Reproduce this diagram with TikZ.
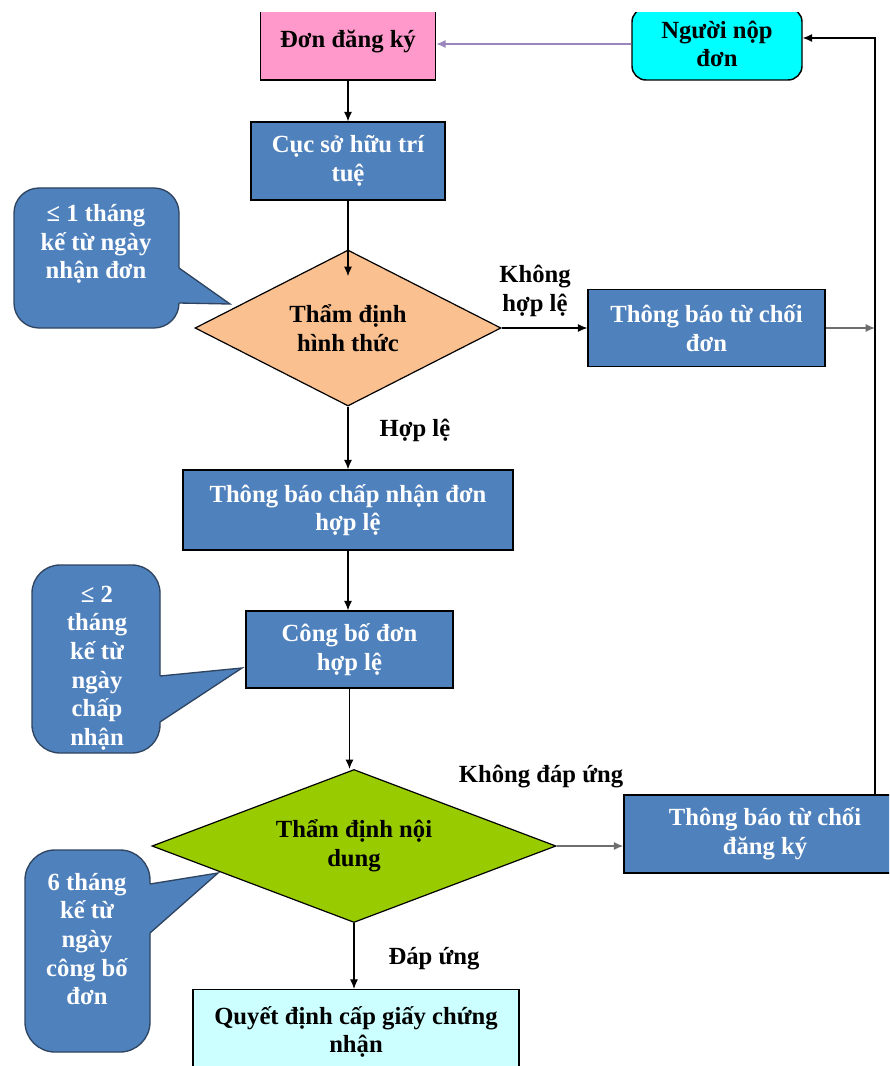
\documentclass[tikz,border=0pt]{standalone}
\usepackage{fontspec}
\setmainfont{Liberation Serif}
\usetikzlibrary{shapes.geometric,arrows.meta}
\definecolor{boxblue}{HTML}{4F81BD}
\definecolor{calloutline}{HTML}{2E4460}
\definecolor{pinkfill}{HTML}{FF99CC}
\definecolor{cyanfill}{HTML}{00FFFF}
\definecolor{lightcyan}{HTML}{CCFFFF}
\definecolor{peach}{HTML}{FAC090}
\definecolor{limegreen}{HTML}{99CC00}
\definecolor{lavender}{HTML}{9A86BC}
\definecolor{greyline}{HTML}{6E6E6E}
\tikzset{
  txt/.style={font=\fontsize{18.5pt}{21.5pt}\selectfont\bfseries, align=center, inner sep=0pt},
  box/.style={txt, draw=black, line width=1.1pt},
  bluebox/.style={box, fill=boxblue, text=white},
  decision/.style={txt, draw=black, line width=0.9pt, diamond, aspect=2},
  calloutbox/.style={draw=calloutline, line width=1pt, fill=boxblue},
  callouttext/.style={txt, text=white},
  flow/.style={draw=black, line width=0.8pt, -{Latex[length=7pt,width=6pt]}},
  greyflow/.style={flow, draw=greyline, line width=1pt},
  label/.style={txt, text=black},
}
\begin{document}
\begin{tikzpicture}[x=0.75pt,y=-0.75pt]
\useasboundingbox (0,0) rectangle (889,1066);
\fill[white] (0,0) rectangle (889,1066);
\begin{scope}
\clip (0,13) rectangle (889,1066);

% process boxes
\node[box, fill=pinkfill, minimum width=131.25pt, minimum height=57pt] (don) at (348,42) {Đơn đăng ký};
\node[box, fill=cyanfill, rounded corners=10.5pt, minimum width=127.5pt, minimum height=54pt] (nguoi) at (717,44) {Người nộp\\đơn};
\node[bluebox, minimum width=145.5pt, minimum height=58.5pt] (cuc) at (348,161) {Cục sở hữu trí\\tuệ};
\node[decision, fill=peach, minimum width=229.5pt, minimum height=117pt] (d1) at (348,328) {Thẩm định\\hình thức};
\node[bluebox, minimum width=177.75pt, minimum height=57.75pt] (tc1) at (706.5,328) {Thông báo từ chối\\đơn};
\node[bluebox, minimum width=247.5pt, minimum height=60pt] (tb) at (348,510) {Thông báo chấp nhận đơn\\hợp lệ};
\node[bluebox, minimum width=155.25pt, minimum height=57.75pt] (cb) at (349.5,649.5) {Công bố đơn\\hợp lệ};
\node[decision, fill=limegreen, minimum width=303pt, minimum height=114.75pt] (d2) at (354,846) {Thẩm định nội\\dung};
\node[bluebox, minimum width=211.5pt, minimum height=58.5pt] (tc2) at (765,834) {Thông báo từ chối\\đăng ký};
\node[box, fill=lightcyan, minimum width=244.5pt, minimum height=63.75pt] (qd) at (356,1032) {Quyết định cấp giấy chứng\\nhận};

% branch labels
\node[label] (khl) at (535,291) {Không\\hợp lệ};
\node[label] (hl) at (415,430) {Hợp lệ};
\node[label] (kdu) at (541,777) {Không đáp ứng};
\node[label] (du) at (434,959) {Đáp ứng};

% time callouts
\node[calloutbox, rounded corners=18.75pt, minimum width=123.75pt, minimum height=105pt] (c1) at (96.5,258) {};
\fill[boxblue] (173,270) -- (179,268) -- (230,304) -- (179,303) -- (173,301) -- cycle;
\draw[calloutline, line width=1pt, line join=miter] (179,268) -- (230,304) -- (179,303);
\node[callouttext] (c1t) at (96,244) {≤ 1 tháng\\kế từ ngày\\nhận đơn};

\node[calloutbox, rounded corners=21pt, minimum width=96pt, minimum height=141pt] (c2) at (96,659) {};
\fill[boxblue] (154,678) -- (160,676) -- (242,668) -- (160,722) -- (154,720) -- cycle;
\draw[calloutline, line width=1pt, line join=miter] (160,676) -- (242,668) -- (160,722);
\node[callouttext] (c2t) at (97,668) {≤ 2\\tháng\\kế từ\\ngày\\chấp\\nhận};

\node[calloutbox, rounded corners=22.5pt, minimum width=93.75pt, minimum height=151.5pt] (c3) at (87.5,951) {};
\fill[boxblue] (144,886) -- (150,884) -- (218,873) -- (150,933) -- (144,931) -- cycle;
\draw[calloutline, line width=1pt, line join=miter] (150,884) -- (218,873) -- (150,933);
\node[callouttext] (c3t) at (87,939) {6 tháng\\kế từ\\ngày\\công bố\\đơn};

% connectors
\coordinate (j1) at (875,328);
\coordinate (rt) at (875,38);
\draw[flow, draw=lavender, line width=1.1pt] (nguoi.west) -- (don.east |- nguoi.west);
\draw[flow] (don.south) -- (cuc.north);
\draw[flow] (cuc.south) -- ([yshift=-20pt]d1.north);
\draw[flow] (d1.east) -- (d1.east -| tc1.west);
\draw[greyflow] (tc1.east) -- (tc1.east -| j1);
\draw[flow] (tc2.north -| j1) -- (rt) -- (nguoi.east |- rt);
\draw[flow] (d1.south) -- (tb.north);
\draw[flow] (tb.south) -- (tb.south |- cb.north);
\draw[flow] (cb.south) -- (cb.south |- d2.north);
\draw[greyflow] (d2.east) -- (d2.east -| tc2.west);
\draw[flow] (d2.south) -- (d2.south |- qd.north);
\end{scope}
\end{tikzpicture}
\end{document}
